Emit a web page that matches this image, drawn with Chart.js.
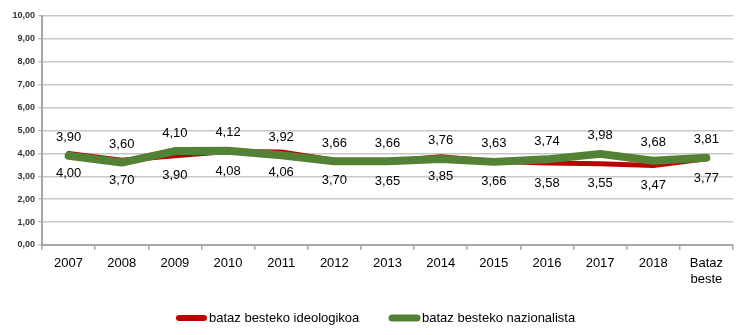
<!DOCTYPE html>
<html>
<head>
<meta charset="utf-8">
<script src="https://cdn.jsdelivr.net/npm/chart.js@4.4.0/dist/chart.umd.min.js"></script>
<style>
  html, body { margin: 0; padding: 0; background: #fff; }
  #wrap { width: 750px; height: 335px; }
</style>
</head>
<body>
<div id="wrap"><canvas id="myChart" width="750" height="335"></canvas></div>
<script>
'use strict';

// Chart data

let years = ['2007', '2008', '2009', '2010', '2011', '2012', '2013', '2014', '2015', '2016', '2017', '2018', ['Bataz', 'beste']];
let ideologikoa = [4.00, 3.70, 3.90, 4.08, 4.06, 3.70, 3.65, 3.85, 3.66, 3.58, 3.55, 3.47, 3.77];
let nazionalista = [3.90, 3.60, 4.10, 4.12, 3.92, 3.66, 3.66, 3.76, 3.63, 3.74, 3.98, 3.68, 3.81];
let seriesNames = ['bataz besteko ideologikoa', 'bataz besteko nazionalista'];
let seriesColors = ['#c00000', '#548235'];

const labelFont = '13px "Liberation Sans", Arial, sans-serif';

function fmt(v) {
  return v.toFixed(2).replace('.', ',');
}

// value labels: green above the line, red below it
const valueLabels = {
  id: 'valueLabels',
  afterDatasetsDraw(chart) {
    const ctx = chart.ctx;
    ctx.save();
    ctx.font = labelFont;
    ctx.fillStyle = '#000';
    ctx.textAlign = 'center';
    ctx.textBaseline = 'middle';
    chart.data.datasets.forEach((ds, i) => {
      const meta = chart.getDatasetMeta(i);
      meta.data.forEach((pt, j) => {
        const dy = i === 1 ? -18 : 20;
        ctx.fillText(fmt(ds.data[j]), pt.x, pt.y + dy);
      });
    });
    ctx.restore();
  }
};

// legend under the axis
const bottomLegend = {
  id: 'bottomLegend',
  afterDraw(chart) {
    const ctx = chart.ctx;
    const items = [{ x: 176, w: 6 }, { x: 389, w: 7 }];
    ctx.save();
    ctx.font = labelFont;
    ctx.textBaseline = 'middle';
    items.forEach((it, i) => {
      ctx.strokeStyle = seriesColors[i];
      ctx.lineWidth = it.w;
      ctx.lineCap = 'round';
      ctx.beginPath();
      ctx.moveTo(it.x + 3, 318);
      ctx.lineTo(it.x + 28, 318);
      ctx.stroke();
      ctx.fillStyle = '#000';
      ctx.fillText(seriesNames[i], it.x + 33, 318);
    });
    ctx.restore();
  }
};

const ctx = document.getElementById('myChart').getContext('2d');
const myChart = new Chart(ctx, {
  type: 'line',
  data: {
    labels: years,
    datasets: [{
      label: seriesNames[0],
      data: ideologikoa,
      borderColor: seriesColors[0],
      backgroundColor: seriesColors[0],
      borderWidth: 5,
      order: 1
    },
    {
      label: seriesNames[1],
      data: nazionalista,
      borderColor: seriesColors[1],
      backgroundColor: seriesColors[1],
      borderWidth: 8,
      order: 0
    }]
  },
  options: {
    responsive: false,
    animation: false,
    elements: {
      point: { radius: 0, hoverRadius: 0 },
      line: { tension: 0, borderCapStyle: 'round', borderJoinStyle: 'round' }
    },
    layout: { padding: { left: 0, right: 17, top: 16, bottom: 30 } },
    plugins: {
      legend: { display: false },
      tooltip: { enabled: false }
    },
    scales: {
      x: {
        offset: true,
        grid: {
          offset: true,
          drawOnChartArea: false,
          drawTicks: true,
          tickLength: 5,
          color: '#a6a6a6',
          lineWidth: 1.5
        },
        border: { color: '#a6a6a6', width: 2 },
        ticks: {
          color: '#000',
          font: { family: '"Liberation Sans", Arial, sans-serif', size: 13 },
          padding: 6,
          maxRotation: 0,
          autoSkip: false
        },
        afterFit(scale) { scale.height = 60; }
      },
      y: {
        min: 0,
        max: 10,
        grid: {
          color: '#c8c8c8',
          lineWidth: 1.5,
          tickLength: 4
        },
        border: { color: '#a6a6a6', width: 2 },
        ticks: {
          stepSize: 1,
          color: '#333',
          padding: 3,
          font: { family: '"Liberation Sans", Arial, sans-serif', size: 9, weight: 'bold' },
          callback: (v) => fmt(v)
        },
        afterFit(scale) { scale.width = 42; }
      }
    }
  },
  plugins: [valueLabels, bottomLegend]
});
</script>
</body>
</html>
